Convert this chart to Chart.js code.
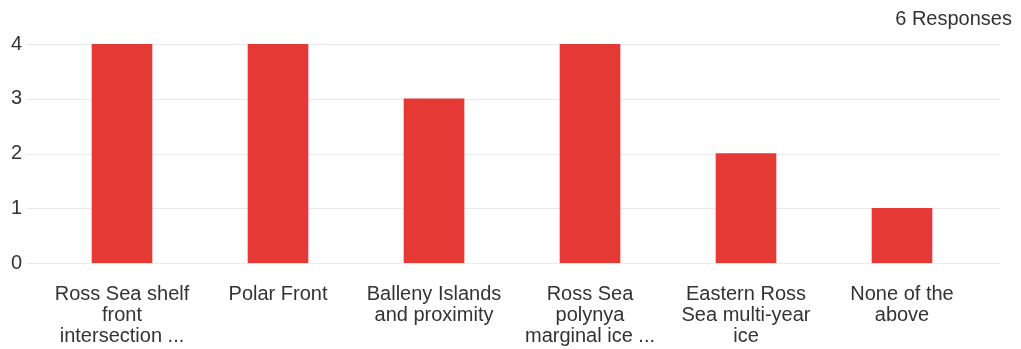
<!DOCTYPE html>
<html>
<head>
<meta charset="utf-8">
<script src="https://cdn.jsdelivr.net/npm/chart.js@4/dist/chart.umd.min.js"></script>
<style>
html,body{margin:0;padding:0;background:#fff;}
#wrap{position:relative;width:1021px;height:349px;}
#resp{position:absolute;right:9px;top:7px;font-family:"Liberation Sans",Arial,sans-serif;font-size:20px;color:#333;line-height:22px;}
</style>
</head>
<body>
<div id="wrap">
<canvas id="c" width="1021" height="349"></canvas>
<div id="resp">6 Responses</div>
</div>
<script>
const categories = [
  ["Ross Sea shelf", "front", "intersection ..."],
  ["Polar Front"],
  ["Balleny Islands", "and proximity"],
  ["Ross Sea", "polynya", "marginal ice ..."],
  ["Eastern Ross", "Sea multi-year", "ice"],
  ["None of the", "above"]
];
const responses = [4, 4, 3, 4, 2, 1];
const yTicks = [0, 1, 2, 3, 4];

const FONT = '"Liberation Sans", Arial, sans-serif';
const TEXT = '#333333';

const gridPlugin = {
  id: 'extGrid',
  beforeDatasetsDraw(chart) {
    const ctx = chart.ctx;
    const y = chart.scales.y;
    ctx.save();
    ctx.strokeStyle = '#e9e9e9';
    ctx.lineWidth = 1;
    yTicks.forEach(v => {
      const py = Math.round(y.getPixelForValue(v)) + 0.5;
      ctx.beginPath();
      ctx.moveTo(27, py);
      ctx.lineTo(1000, py);
      ctx.stroke();
    });
    ctx.restore();
  }
};

new Chart(document.getElementById('c'), {
  type: 'bar',
  data: {
    labels: categories,
    datasets: [{
      data: responses,
      backgroundColor: '#e53935',
      barThickness: 60,
      borderWidth: 0
    }]
  },
  options: {
    responsive: false,
    animation: false,
    layout: { padding: { top: 44, right: 41, bottom: 0, left: 0 } },
    plugins: { legend: { display: false }, tooltip: { enabled: false } },
    scales: {
      x: {
        grid: { display: false },
        border: { display: false },
        ticks: {
          color: TEXT,
          font: { family: FONT, size: 20, lineHeight: '21px' },
          padding: 13,
          maxRotation: 0,
          autoSkip: false
        },
        afterFit(scale) { scale.height = 86; }
      },
      y: {
        min: 0,
        max: 4,
        grid: { display: false },
        border: { display: false },
        ticks: {
          stepSize: 1,
          color: TEXT,
          font: { family: FONT, size: 20 },
          padding: 14
        },
        afterFit(scale) { scale.width = 44; }
      }
    }
  },
  plugins: [gridPlugin]
});
</script>
</body>
</html>
